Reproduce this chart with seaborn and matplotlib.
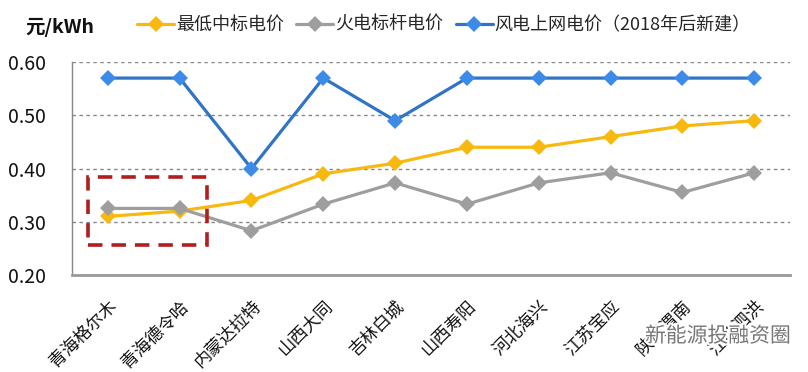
import matplotlib
matplotlib.use("Agg")
import matplotlib.pyplot as plt
import matplotlib.patheffects as pe
from matplotlib.patches import Rectangle
from matplotlib.transforms import ScaledTranslation
import seaborn as sns
import pandas as pd

# categories (cities) and three price series
cities = ['青海格尔木', '青海德令哈', '内蒙达拉特', '山西大同', '吉林白城',
          '山西寿阳', '河北海兴', '江苏宝应', '陕西渭南', '江苏泗洪']
lowest_bid = [0.31, 0.32, 0.34, 0.39, 0.41, 0.44, 0.44, 0.46, 0.48, 0.49]
coal_benchmark = [0.325, 0.325, 0.283, 0.333, 0.373, 0.333, 0.373, 0.392, 0.355, 0.392]
wind_price = [0.57, 0.57, 0.40, 0.57, 0.49, 0.57, 0.57, 0.57, 0.57, 0.57]
series_names = ['最低中标电价', '火电标杆电价', '风电上网电价（2018年后新建）']
y_ticks = [0.20, 0.30, 0.40, 0.50, 0.60]

df = pd.DataFrame({
    'city': cities * 3,
    'price': lowest_bid + coal_benchmark + wind_price,
    'series': [series_names[0]] * 10 + [series_names[1]] * 10 + [series_names[2]] * 10,
})

sns.set_theme(style="white")
plt.rcParams['font.family'] = ['Noto Sans CJK SC', 'DejaVu Sans']

fig = plt.figure(figsize=(8.08, 3.72), dpi=100)
ax = fig.add_axes([0.089, 0.261, 0.889, 0.572])

palette = {series_names[0]: '#F7B90F', series_names[1]: '#9E9E9E', series_names[2]: '#2F74C6'}
sns.lineplot(data=df, x='city', y='price', hue='series', style='series',
             markers={s: 'D' for s in series_names}, dashes=False,
             palette=palette, linewidth=2.3, markersize=8, markeredgewidth=0,
             sort=False, ax=ax, zorder=3)

# brighter marker faces for the blue series
for line in ax.get_lines():
    if line.get_color() == '#2F74C6':
        line.set_markerfacecolor('#3D8BE8')

ax.set_xlim(-0.5, len(cities) - 0.5)
ax.set_ylim(0.2, 0.6)
ax.set_yticks(y_ticks)
ax.set_yticklabels([f'{v:.2f}' for v in y_ticks], fontsize=14, color='#111111')
ax.yaxis.grid(True, linestyle=(0, (2.5, 2.5)), color='#888888', linewidth=1.0)
ax.set_axisbelow(True)

ax.set_xticks(range(len(cities)))
ax.set_xticklabels(cities, rotation=45, ha='right', va='top', rotation_mode='anchor',
                   fontsize=12.5, color='#111111')
offset = ScaledTranslation(0.03, 0, fig.dpi_scale_trans)
for lab in ax.get_xticklabels():
    lab.set_transform(lab.get_transform() + offset)
ax.set_xticks([i - 0.5 for i in range(len(cities) + 1)], minor=True)
ax.tick_params(axis='x', which='major', length=0, pad=16)
ax.tick_params(axis='x', which='minor', length=5, color='#888888', width=1, direction='out')
ax.tick_params(axis='y', length=7, color='#888888', width=1, direction='out', pad=12)
ax.set_xlabel('')
ax.set_ylabel('')

for side in ['top', 'right']:
    ax.spines[side].set_visible(False)
ax.spines['left'].set_color('#888888')
ax.spines['left'].set_linewidth(1)
ax.spines['bottom'].set_color('#999999')
ax.spines['bottom'].set_linewidth(2)

# red dashed highlight box around the first two cities
ax.add_patch(Rectangle((-0.28, 0.256), 1.66, 0.128, fill=False,
                       edgecolor='#B01E1E', linewidth=2.6,
                       linestyle=(0, (4, 2.5)), zorder=4, clip_on=False))

handles, labels = ax.get_legend_handles_labels()
ax.legend_.remove()
fig.legend(handles, labels, loc='center left', bbox_to_anchor=(137 / 808, 1 - 25 / 372),
           ncol=3, frameon=False, fontsize=13, handlelength=2.05,
           handletextpad=0.1, columnspacing=0.7, borderaxespad=0, borderpad=0)

fig.text(25 / 808, 1 - 27 / 372, '元/kWh', fontsize=14, fontweight='bold', color='#111111',
         va='center', ha='left')

# watermark
fig.text(645 / 808, 1 - 336 / 372, '新能源投融资圈', fontsize=15, color='#777777',
         va='center', ha='left',
         path_effects=[pe.withStroke(linewidth=3, foreground='white')])

fig.savefig('out.png', dpi=100)
